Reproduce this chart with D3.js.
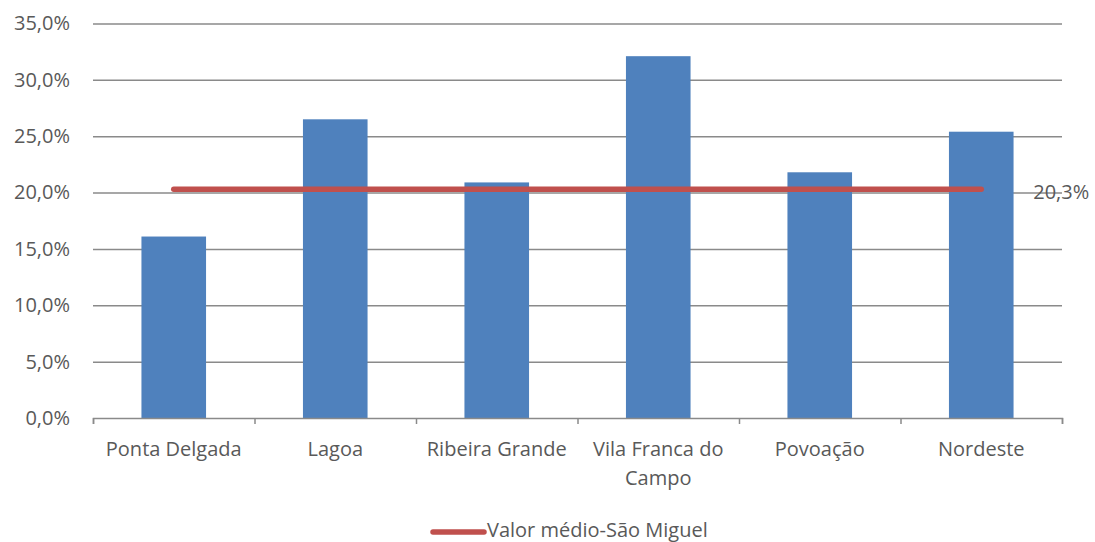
<!DOCTYPE html>
<html>
<head>
<meta charset="utf-8">
<script src="https://cdn.jsdelivr.net/npm/d3@7"></script>
<style>
  body { margin: 0; background: #fff; }
  text { font-family: "Open Sans", sans-serif; fill: #595959; }
</style>
</head>
<body>
<svg id="chart" width="1095" height="542"></svg>
<script>
// data
const categories = ['Ponta Delgada', 'Lagoa', 'Ribeira Grande', 'Vila Franca do Campo', 'Povoação', 'Nordeste'];
const barValues  = [16.1, 26.5, 20.9, 32.1, 21.8, 25.4];
const avgValues  = [20.3, 20.3, 20.3, 20.3, 20.3, 20.3];
const yTicks     = [0, 5, 10, 15, 20, 25, 30, 35];
const avgLabel   = 'Valor médio-São Miguel';

const svg = d3.select('#chart');
const margin = {left: 93, right: 1062, top: 23.5, bottom: 418};
const fontSize = 20;

// scales
const x = d3.scaleBand()
  .domain(categories)
  .range([margin.left, margin.right])
  .paddingInner(0.6)
  .paddingOuter(0.3);

const xEdge = d3.scaleLinear()
  .domain([0, categories.length])
  .range([margin.left, margin.right]);

const y = d3.scaleLinear()
  .domain([0, 35])
  .range([margin.bottom, margin.top]);

const fmt = d => d.toFixed(1).replace('.', ',') + '%';

// gridlines + y labels
const gY = svg.append('g')
  .attr('transform', 'translate(' + margin.left + ',0)')
  .call(d3.axisLeft(y)
    .tickValues(yTicks)
    .tickSize(-(margin.right - margin.left))
    .tickPadding(23)
    .tickFormat(fmt));
gY.select('.domain').remove();
gY.selectAll('.tick line')
  .attr('stroke', '#8a8a8a')
  .attr('stroke-width', 1.5)
  .attr('opacity', d => d === 0 ? 0 : 1);
gY.selectAll('.tick text')
  .attr('font-family', '"Open Sans", sans-serif')
  .attr('font-size', fontSize)
  .attr('fill', '#595959');

// bars
svg.append('g').selectAll('rect')
  .data(categories)
  .enter().append('rect')
  .attr('x', d => x(d))
  .attr('width', x.bandwidth())
  .attr('y', (d, i) => y(barValues[i]))
  .attr('height', (d, i) => y(0) - y(barValues[i]))
  .attr('fill', '#4f81bd');

// x axis with ticks at category edges
const gX = svg.append('g')
  .attr('transform', 'translate(0,' + margin.bottom + ')')
  .call(d3.axisBottom(xEdge)
    .tickValues(d3.range(0, categories.length + 1))
    .tickSize(6)
    .tickSizeOuter(6)
    .tickFormat(''));
gX.selectAll('path, line')
  .attr('stroke', '#8a8a8a')
  .attr('stroke-width', 1.5);

// category labels, wrapped
const wrapWidth = 150;
const labels = svg.append('g').selectAll('text')
  .data(categories)
  .enter().append('text')
  .attr('text-anchor', 'middle')
  .attr('font-size', fontSize)
  .attr('x', d => x(d) + x.bandwidth() / 2)
  .attr('y', 456);

labels.each(function(d) {
  const el = d3.select(this);
  const words = d.split(' ');
  let line = [];
  let lineNo = 0;
  let tspan = el.append('tspan').attr('x', el.attr('x')).attr('dy', 0);
  for (let w of words) {
    line.push(w);
    tspan.text(line.join(' '));
    if (tspan.node().getComputedTextLength() > wrapWidth && line.length > 1) {
      line.pop();
      tspan.text(line.join(' '));
      line = [w];
      lineNo++;
      tspan = el.append('tspan').attr('x', el.attr('x')).attr('dy', 29).text(w);
    }
  }
});

// average line
const avgLine = d3.line()
  .x((d, i) => x(categories[i]) + x.bandwidth() / 2)
  .y(d => y(d));

svg.append('path')
  .datum(avgValues)
  .attr('d', avgLine)
  .attr('fill', 'none')
  .attr('stroke', '#c0504d')
  .attr('stroke-width', 5.5)
  .attr('stroke-linecap', 'round');

// value label of the average
const lastVal = avgValues[avgValues.length - 1];
svg.append('text')
  .attr('x', x(categories[categories.length - 1]) + x.bandwidth() / 2 + 52)
  .attr('y', y(lastVal) + 4)
  .attr('dominant-baseline', 'middle')
  .attr('font-size', fontSize)
  .text(fmt(lastVal));

// legend
const legend = svg.append('g').attr('transform', 'translate(431,532)');
legend.append('line')
  .attr('x1', 2).attr('x2', 53)
  .attr('y1', 0).attr('y2', 0)
  .attr('stroke', '#c0504d')
  .attr('stroke-width', 5.5)
  .attr('stroke-linecap', 'round');
legend.append('text')
  .attr('x', 56)
  .attr('y', 0)
  .attr('dominant-baseline', 'middle')
  .attr('font-size', fontSize)
  .text(avgLabel);
</script>
</body>
</html>
